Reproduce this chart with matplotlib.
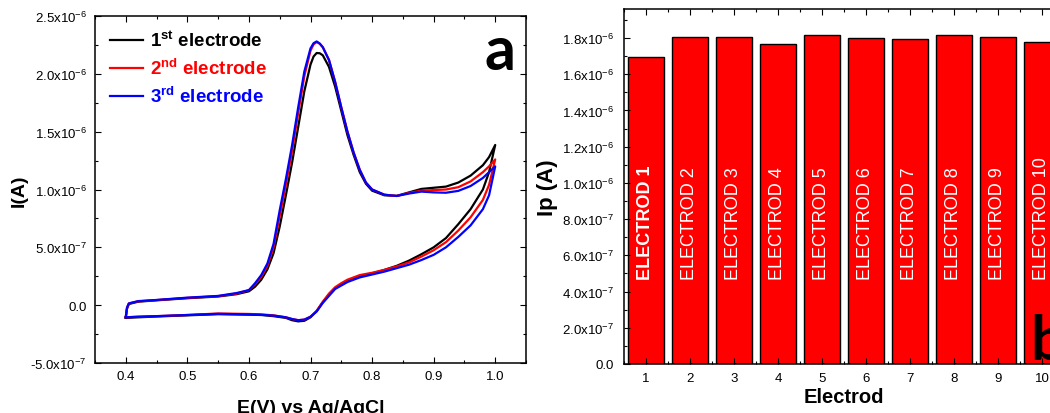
import numpy as np
import matplotlib
matplotlib.use("Agg")
import matplotlib.pyplot as plt
from matplotlib.ticker import MultipleLocator, FixedLocator

plt.rcParams['font.family'] = ['Liberation Sans', 'DejaVu Sans']
plt.rcParams['mathtext.fontset'] = 'custom'
plt.rcParams['mathtext.rm'] = 'Liberation Sans'
plt.rcParams['mathtext.bf'] = 'Liberation Sans:bold'
plt.rcParams['mathtext.it'] = 'Liberation Sans:italic'

# ---- panel a : cyclic voltammograms (potential in V, current in uA) ----
E_fwd = [0.400, 0.402, 0.405, 0.42, 0.45, 0.50, 0.55, 0.58, 0.60, 0.61, 0.62, 0.63,
         0.64, 0.65, 0.66, 0.67, 0.68, 0.69, 0.70, 0.705, 0.71, 0.715, 0.72, 0.73,
         0.74, 0.75, 0.76, 0.77, 0.78, 0.79, 0.80, 0.82, 0.84, 0.86, 0.88, 0.90,
         0.92, 0.94, 0.96, 0.98, 0.99, 1.00]
E_rev = [0.99, 0.98, 0.96, 0.94, 0.92, 0.90, 0.88, 0.86, 0.84, 0.82, 0.80, 0.78,
         0.76, 0.75, 0.74, 0.73, 0.72, 0.71, 0.70, 0.69, 0.68, 0.67, 0.66, 0.64,
         0.62, 0.60, 0.55, 0.50, 0.45, 0.42, 0.40]

I1_fwd = [-0.11, -0.03, 0.01, 0.03, 0.042, 0.06, 0.075, 0.095, 0.12, 0.16, 0.22, 0.31,
          0.45, 0.68, 0.95, 1.23, 1.54, 1.85, 2.08, 2.15, 2.18, 2.178, 2.16, 2.06,
          1.89, 1.68, 1.47, 1.30, 1.15, 1.05, 0.99, 0.95, 0.945, 0.975, 1.005, 1.015,
          1.025, 1.06, 1.12, 1.21, 1.28, 1.385]
I1_rev = [1.15, 1.00, 0.83, 0.70, 0.58, 0.50, 0.44, 0.385, 0.34, 0.305, 0.275, 0.25,
          0.21, 0.18, 0.145, 0.09, 0.025, -0.05, -0.105, -0.135, -0.14, -0.13, -0.11, -0.095,
          -0.085, -0.082, -0.078, -0.088, -0.098, -0.105, -0.11]

I2_fwd = [-0.10, -0.025, 0.015, 0.033, 0.044, 0.063, 0.078, 0.10, 0.13, 0.18, 0.245, 0.34,
          0.50, 0.77, 1.04, 1.33, 1.66, 1.98, 2.20, 2.255, 2.275, 2.26, 2.23, 2.12,
          1.93, 1.71, 1.50, 1.32, 1.17, 1.06, 1.00, 0.955, 0.944, 0.97, 0.99, 0.995,
          1.00, 1.02, 1.07, 1.15, 1.20, 1.26]
I2_rev = [1.04, 0.91, 0.76, 0.645, 0.545, 0.475, 0.42, 0.37, 0.335, 0.305, 0.28, 0.26,
          0.22, 0.19, 0.155, 0.10, 0.03, -0.05, -0.10, -0.125, -0.13, -0.12, -0.105, -0.088,
          -0.08, -0.076, -0.072, -0.085, -0.095, -0.10, -0.105]

I3_fwd = [-0.10, -0.02, 0.015, 0.035, 0.045, 0.065, 0.08, 0.105, 0.13, 0.19, 0.26, 0.36,
          0.53, 0.82, 1.09, 1.38, 1.71, 2.02, 2.22, 2.265, 2.28, 2.262, 2.23, 2.12,
          1.93, 1.71, 1.50, 1.32, 1.17, 1.06, 1.00, 0.955, 0.944, 0.965, 0.982, 0.975,
          0.972, 0.988, 1.03, 1.10, 1.15, 1.20]
I3_rev = [0.95, 0.83, 0.69, 0.59, 0.50, 0.435, 0.39, 0.35, 0.32, 0.29, 0.265, 0.24,
          0.20, 0.17, 0.14, 0.08, 0.02, -0.055, -0.10, -0.125, -0.13, -0.12, -0.105, -0.09,
          -0.083, -0.08, -0.075, -0.085, -0.095, -0.10, -0.105]

cv_labels = [r'1$^{\mathbf{st}}$ electrode', r'2$^{\mathbf{nd}}$ electrode',
             r'3$^{\mathbf{rd}}$ electrode']
cv_colors = ['black', '#ff0000', '#0000ff']

a_yticks = [-5e-7, 0, 5e-7, 1e-6, 1.5e-6, 2e-6, 2.5e-6]
a_yticklabels = ['-5.0x10$^{-7}$', '0.0', '5.0x10$^{-7}$', '1.0x10$^{-6}$',
                 '1.5x10$^{-6}$', '2.0x10$^{-6}$', '2.5x10$^{-6}$']

# ---- panel b : peak currents ----
electrodes = [1, 2, 3, 4, 5, 6, 7, 8, 9, 10]
Ip = [1.695e-6, 1.803e-6, 1.805e-6, 1.769e-6, 1.814e-6, 1.799e-6, 1.792e-6,
      1.816e-6, 1.805e-6, 1.776e-6]
bar_names = ['ELECTROD %d' % n for n in electrodes]

b_yticks = [0, 2e-7, 4e-7, 6e-7, 8e-7, 1e-6, 1.2e-6, 1.4e-6, 1.6e-6, 1.8e-6]
b_yticklabels = ['0.0', '2.0x10$^{-7}$', '4.0x10$^{-7}$', '6.0x10$^{-7}$', '8.0x10$^{-7}$',
                 '1.0x10$^{-6}$', '1.2x10$^{-6}$', '1.4x10$^{-6}$', '1.6x10$^{-6}$',
                 '1.8x10$^{-6}$']


def style_axes(ax):
    for s in ax.spines.values():
        s.set_linewidth(1.1)
    ax.tick_params(which='both', direction='in', top=True, right=True, width=0.8)
    ax.tick_params(which='major', length=4.5)
    ax.tick_params(which='minor', length=2.3)


fig = plt.figure(figsize=(10.5, 4.14), dpi=100)

# panel a
ax1 = fig.add_axes([95 / 1050, 50 / 414, 431 / 1050, 347 / 414])
series = [(I1_fwd, I1_rev), (I2_fwd, I2_rev), (I3_fwd, I3_rev)]
for (f, r), lab, col in zip(series, cv_labels, cv_colors):
    E = np.array(E_fwd + E_rev)
    I = np.array(f + r) * 1e-6
    ax1.plot(E, I, color=col, lw=1.6, label=lab, solid_joinstyle='round')
ax1.set_xlim(0.35, 1.05)
ax1.set_ylim(-5e-7, 2.5e-6)
ax1.xaxis.set_minor_locator(MultipleLocator(0.05))
ax1.yaxis.set_major_locator(FixedLocator(a_yticks))
ax1.set_yticklabels(a_yticklabels)
ax1.yaxis.set_minor_locator(MultipleLocator(2.5e-7))
ax1.set_xticks([0.4, 0.5, 0.6, 0.7, 0.8, 0.9, 1.0])
ax1.set_xticklabels(['0.4', '0.5', '0.6', '0.7', '0.8', '0.9', '1.0'])
style_axes(ax1)
ax1.tick_params(axis='both', which='major', labelsize=9.5)
ax1.tick_params(axis='y', pad=6)
ax1.tick_params(axis='x', pad=5)
ax1.set_xlabel('E(V) vs Ag/AgCl', fontsize=14, fontweight='bold', labelpad=12)
ax1.set_ylabel('I(A)', fontsize=14, fontweight='bold', labelpad=2)
leg = ax1.legend(loc='upper left', bbox_to_anchor=(-0.005, 1.008), frameon=False,
                 prop={'size': 13.5, 'weight': 'bold'}, labelcolor='linecolor',
                 handlelength=1.75, handletextpad=0.4, labelspacing=0.42)
ax1.text(515 / 1050, 1 - 70 / 414, 'a', transform=fig.transFigure, ha='right',
         va='baseline', fontsize=44, fontweight='bold', family=['Lato', 'DejaVu Sans'])

# panel b (runs past the right edge of the picture, like the source)
ax2 = fig.add_axes([624 / 1050, 49 / 414, 440 / 1050, 355 / 414])
ax2.bar(electrodes, Ip, width=0.8, color='#ff0000', edgecolor='black', linewidth=1.0)
for n, name in zip(electrodes, bar_names):
    ax2.text(n, 0.47e-6, name, rotation=90, ha='center', va='bottom', color='white',
             fontsize=13, fontweight='bold' if n == 1 else 'normal')
ax2.set_xlim(0.5, 10.5)
ax2.set_ylim(0, 1.96e-6)
ax2.set_xticks(electrodes)
ax2.set_xticklabels([str(n) for n in electrodes])
ax2.xaxis.set_minor_locator(MultipleLocator(0.5))
ax2.yaxis.set_major_locator(FixedLocator(b_yticks))
ax2.set_yticklabels(b_yticklabels)
ax2.yaxis.set_minor_locator(MultipleLocator(1e-7))
style_axes(ax2)
ax2.tick_params(axis='both', which='major', labelsize=9.5)
ax2.tick_params(axis='y', pad=7)
ax2.tick_params(axis='x', pad=6)
ax2.set_xlabel('Electrod', fontsize=14.5, fontweight='bold', labelpad=2)
ax2.set_ylabel('Ip (A)', fontsize=16, fontweight='bold', labelpad=3)
fig.text(1030 / 1050, 1 - 360 / 414, 'b', ha='left', va='baseline', fontsize=44,
         fontweight='bold', family=['Lato', 'DejaVu Sans'])

fig.savefig('out.png', dpi=100)
